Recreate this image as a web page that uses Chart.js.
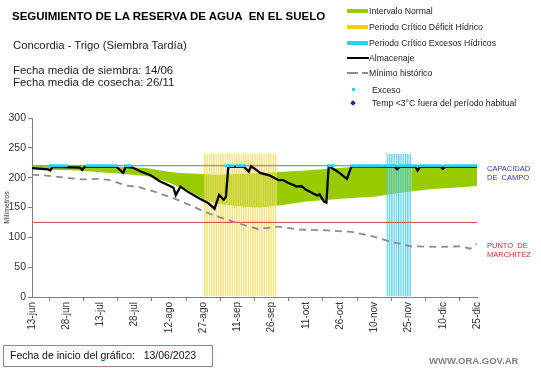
<!DOCTYPE html>
<html>
<head>
<meta charset="utf-8">
<script src="https://cdn.jsdelivr.net/npm/chart.js@4/dist/chart.umd.min.js"></script>
<style>
  body { margin: 0; background: #fff; font-family: "Liberation Sans", Arial, sans-serif; }
  #wrap { position: relative; width: 541px; height: 368px; overflow: hidden; }
  #c { position: absolute; left: 0; top: 0; }
  .t { position: absolute; white-space: pre; color: #000; }
  .lg { position: absolute; left: 369px; font-size: 8.7px; color: #222; white-space: pre; line-height: 10px; }
  .sw { position: absolute; }
</style>
</head>
<body>
<div id="wrap">
  <canvas id="c" width="541" height="368"></canvas>

  <div class="t" style="left:12px;top:10px;font-size:11.5px;font-weight:bold;line-height:12px;">SEGUIMIENTO DE LA RESERVA DE AGUA  EN EL SUELO</div>
  <div class="t" style="left:13px;top:38px;font-size:11.3px;line-height:14px;color:#222;">Concordia - Trigo (Siembra Tardía)</div>
  <div class="t" style="left:13px;top:64px;font-size:11.4px;line-height:12px;color:#222;">Fecha media de siembra: 14/06
Fecha media de cosecha: 26/11</div>

  <!-- legend -->
  <div class="sw" style="left:347px;top:9px;width:21px;height:4px;background:#99cc00;"></div>
  <div class="lg" style="top:6px;">Intervalo Normal</div>
  <div class="sw" style="left:347px;top:25px;width:21px;height:4px;background:#ffcc00;"></div>
  <div class="lg" style="top:22px;">Periodo Crítico Déficit Hídrico</div>
  <div class="sw" style="left:347px;top:41px;width:21px;height:4px;background:#33ccff;"></div>
  <div class="lg" style="top:38px;">Periodo Crítico Excesos Hídricos</div>
  <div class="sw" style="left:347px;top:57px;width:22px;height:2px;background:#000;"></div>
  <div class="lg" style="top:53px;">Almacenaje</div>
  <div class="sw" style="left:347px;top:72px;width:11px;height:2px;background:#8c8c8c;"></div>
  <div class="sw" style="left:362px;top:72px;width:6px;height:2px;background:#8c8c8c;"></div>
  <div class="lg" style="top:68px;">Mínimo histórico</div>
  <div class="sw" style="left:352px;top:88px;width:3px;height:3px;background:#33ccee;"></div>
  <div class="lg" style="top:85px;left:372px;">Exceso</div>
  <div class="sw" style="left:351px;top:101px;width:4px;height:4px;background:#1f2a8a;transform:rotate(45deg);"></div>
  <div class="lg" style="top:98px;left:372px;">Temp &lt;3°C fuera del período habitual</div>

  <!-- right labels -->
  <div class="t" style="left:487px;top:165px;font-size:7.5px;line-height:8.5px;color:#3535a8;">CAPACIDAD
DE  CAMPO</div>
  <div class="t" style="left:487px;top:242px;font-size:7.5px;line-height:8.5px;color:#c03030;">PUNTO  DE
MARCHITEZ</div>

  <!-- footer -->
  <div style="position:absolute;left:3px;top:345px;width:208px;height:20px;border:1px solid #a08080;"></div>
  <div class="t" style="left:10px;top:349px;font-size:10.5px;line-height:12px;color:#111;">Fecha de inicio del gráfico:   13/06/2023</div>
  <div class="t" style="left:429px;top:355px;font-size:9.5px;font-weight:bold;line-height:11px;color:#7f7f7f;">WWW.ORA.GOV.AR</div>
</div>

<script>
// x = days since 13/06/2023
const tickLabels = ["13-jun", "28-jun", "13-jul", "28-jul", "12-ago", "27-ago", "11-sep",
  "26-sep", "11-oct", "26-oct", "10-nov", "25-nov", "10-dic", "25-dic"];

const capacidadCampo = 220;
const puntoMarchitez = 125;
const periodoTop = 240;

// intervalo normal (green band)
const bandDays = [0, 20, 40, 50, 55, 60, 65, 70, 75, 80, 90, 100, 110, 120, 130, 140, 150, 160, 175, 185, 195];
const bandTop  = [219, 219, 218, 216, 213, 210, 208, 207, 206, 205, 206, 208, 210, 212, 215, 218, 219, 219, 219, 219, 219];
const bandLow  = [214, 212, 206, 203, 198, 192, 183, 175, 165, 157, 152, 150, 154, 160, 163, 166, 168, 174, 181, 183, 186];

// almacenaje
const almDays = [0, 7, 8, 9, 21, 22, 23, 37, 40, 41, 44, 48, 52, 56, 60, 62, 63, 65, 68, 73, 77, 80,
  82, 84, 85, 86, 93, 95, 96, 98, 100, 104, 108, 110, 112, 116, 118, 120, 123, 125, 126, 128, 129,
  130, 131, 134, 138, 140, 159, 160, 161, 168, 169, 170, 179, 180, 181, 195];
const almVals = [216, 214, 212, 218, 217, 213, 218, 218, 208, 218, 217, 210, 204, 194, 187, 183, 171, 185, 177, 166, 158, 148,
  171, 163, 168, 218, 218, 210, 219, 214, 208, 204, 196, 196, 192, 185, 186, 180, 174, 170, 172, 160, 158,
  219, 217, 210, 198, 219, 218, 214, 218, 218, 212, 218, 218, 215, 218, 218];

// minimo historico
const minDays = [0, 5, 10, 22, 30, 34, 41, 47, 55, 63, 70, 76, 82, 90, 99, 108, 117, 128, 140, 148, 158, 166, 178, 188, 192, 195];
const minVals = [205, 204, 202, 197, 198, 196, 187, 184, 175, 164, 153, 142, 134, 124, 114, 118, 113, 112, 109, 103, 92, 85, 84, 85, 81, 89];

// periodos criticos
const deficitDays = [76, 77, 78, 79, 80, 81, 82, 83, 84, 85, 86, 87, 88, 89, 90, 91, 92, 93, 94, 95,
  96, 97, 98, 99, 100, 101, 102, 103, 104, 105, 106, 107];
const excesosDays = [156, 157, 158, 159, 160, 161, 162, 163, 164, 165, 166];

// dias con exceso
const excesoDays = [8, 9, 10, 11, 12, 13, 14, 15, 24, 25, 26, 27, 28, 29, 30, 31, 32, 33, 34, 35, 36, 37,
  41, 42, 43, 85, 86, 87, 88, 90, 91, 92, 93, 130, 131, 132,
  140, 141, 142, 143, 144, 145, 146, 147, 148, 149, 150, 151, 152, 153, 154, 155, 156, 157, 158, 159,
  161, 162, 163, 164, 165, 166, 167, 168, 170, 171, 172, 173, 174, 175, 176, 177, 178, 179,
  181, 182, 183, 184, 185, 186, 187, 188, 189, 190, 191, 192, 193, 194, 195];

const pts = (xs, ys) => xs.map((x, i) => ({ x, y: ys[i] }));
const flat = (xs, v) => xs.map((x) => ({ x, y: v }));

Chart.defaults.font.family = "'Liberation Sans', Arial, sans-serif";

new Chart(document.getElementById("c"), {
  type: "line",
  data: {
    datasets: [
      { data: pts(bandDays, bandLow), borderWidth: 0, pointRadius: 0, fill: false, order: 9 },
      { data: pts(bandDays, bandTop), borderWidth: 0, pointRadius: 0, fill: 0, backgroundColor: "#99cc00", order: 8 },
      {
        type: "bar", data: flat(deficitDays, periodoTop), order: 7, grouped: false,
        barPercentage: 1, categoryPercentage: 1,
        backgroundColor: "rgba(255,248,205,0.3)", borderColor: "rgba(240,212,70,0.7)",
        borderWidth: { left: 1, right: 0, top: 0, bottom: 0 }, borderSkipped: false,
      },
      {
        type: "bar", data: flat(excesosDays, periodoTop), order: 6, grouped: false,
        barPercentage: 1, categoryPercentage: 1,
        backgroundColor: "rgba(205,242,250,0.3)", borderColor: "rgba(50,198,228,0.75)",
        borderWidth: { left: 1, right: 0, top: 0, bottom: 0 }, borderSkipped: false,
      },
      { data: flat([0, 195], capacidadCampo), borderColor: "#5b7fcb", borderWidth: 1, pointRadius: 0, order: 5 },
      { data: flat([0, 195], puntoMarchitez), borderColor: "#c0504d", borderWidth: 1, pointRadius: 0, order: 4 },
      { data: pts(minDays, minVals), borderColor: "#8c8c8c", borderWidth: 1.8, borderDash: [7, 5], pointRadius: 0, order: 3 },
      { data: pts(almDays, almVals), borderColor: "#000", borderWidth: 2.3, pointRadius: 0, order: 2 },
      {
        data: flat(excesoDays, capacidadCampo), showLine: false, pointStyle: "rect",
        pointRadius: 2, borderWidth: 0, backgroundColor: "#35c9f0", order: 1,
      },
    ],
  },
  options: {
    responsive: false,
    animation: false,
    events: [],
    layout: { padding: { left: 0, top: 118, right: 64, bottom: 0 } },
    plugins: { legend: { display: false }, tooltip: { enabled: false } },
    elements: { line: { tension: 0 } },
    scales: {
      x: {
        type: "linear", min: 0, max: 195, offset: false,
        afterFit: (s) => { s.height = 71; },
        grid: { drawOnChartArea: false, tickLength: 4, color: "#808080" },
        border: { color: "#808080" },
        ticks: {
          stepSize: 15, autoSkip: false, minRotation: 90, maxRotation: 90, padding: 1,
          color: "#333", font: { size: 10 },
          callback: (v, i) => tickLabels[i],
        },
      },
      y: {
        min: 0, max: 300,
        afterFit: (s) => { s.width = 32; },
        grid: { drawOnChartArea: false, tickLength: 4, color: "#808080" },
        border: { color: "#808080" },
        ticks: { stepSize: 50, padding: 2, color: "#333", font: { size: 10.5 } },
        title: { display: true, text: "Milímetros", font: { size: 7 }, color: "#333", padding: { top: 3, bottom: 0 } },
      },
    },
  },
});
</script>
</body>
</html>
